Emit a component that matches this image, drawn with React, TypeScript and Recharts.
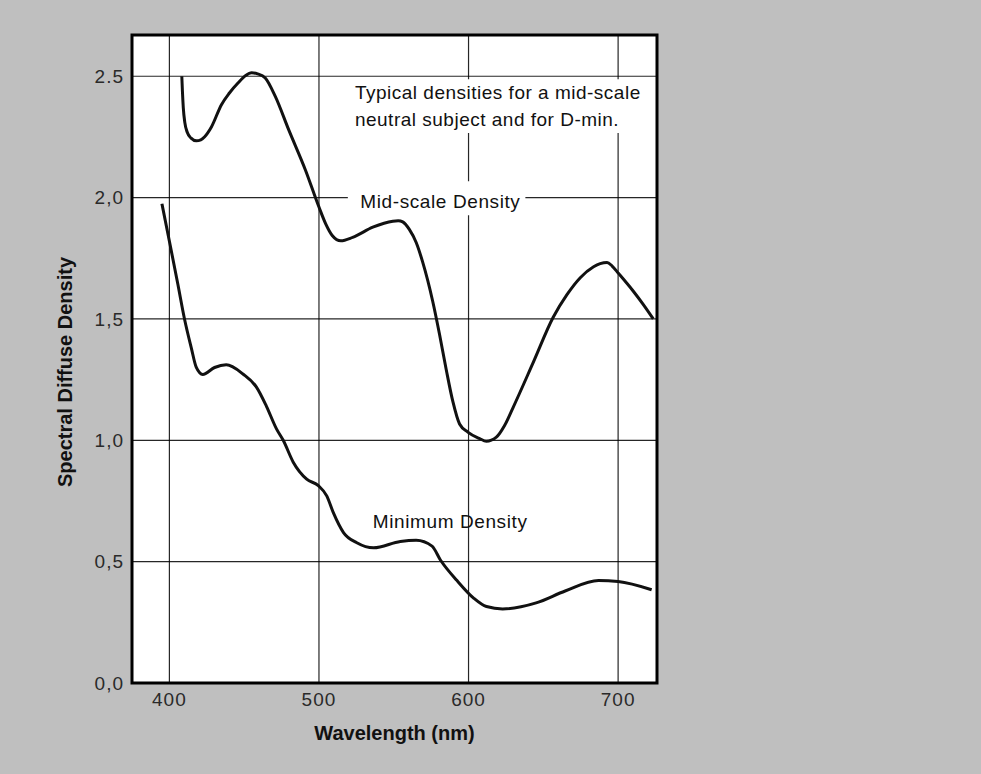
import React from "react";
import {
  LineChart,
  Line,
  XAxis,
  YAxis,
  CartesianGrid,
  ReferenceArea,
  Label,
} from "recharts";

// ---- data ----
const wavelengthTicks = [400, 500, 600, 700];
const densityTicks = [0, 0.5, 1, 1.5, 2, 2.5];
const densityTickLabels = ["0,0", "0,5", "1,0", "1,5", "2,0", "2.5"];

const midNm = [
  408.3, 408.7, 409.3, 410.3, 412, 414.5, 418, 421, 423.6, 428, 434.8, 440, 446,
  451, 455, 459, 464.1, 470.8, 479.8, 491, 500, 504.5, 509, 514.6, 522.5, 536,
  549.4, 553, 556, 560.4, 565, 569.3, 576, 580.5, 585, 589.5, 594, 599.5, 607.4,
  611.9, 618.6, 624, 629.7, 643.2, 656.6, 665.8, 674.7, 683.6, 688, 692.6, 696,
  700.2, 710.3, 717, 723.5,
];
const midDensity = [
  2.5, 2.44, 2.37, 2.31, 2.268, 2.245, 2.234, 2.238, 2.251, 2.29, 2.383, 2.43,
  2.473, 2.503, 2.514, 2.51, 2.493, 2.417, 2.279, 2.113, 1.961, 1.892, 1.843,
  1.822, 1.836, 1.878, 1.903, 1.905, 1.9, 1.869, 1.815, 1.735, 1.574, 1.44,
  1.294, 1.16, 1.067, 1.034, 1.007, 0.996, 1.013, 1.06, 1.134, 1.32, 1.507, 1.6,
  1.67, 1.715, 1.728, 1.733, 1.718, 1.688, 1.613, 1.558, 1.5,
];

const minNm = [
  395, 400, 405.6, 410.1, 414.6, 418, 422.3, 430.2, 438, 449.2, 458.1, 464.9,
  471.6, 476.1, 482.8, 491.8, 499.6, 505.2, 509.6, 516.4, 525.3, 536.5, 554.4,
  565, 575.6, 581.2, 592.3, 603.4, 612, 622.8, 645.2, 664.6, 686.9, 700, 722.4,
];
const minDensity = [
  1.975, 1.82, 1.645, 1.5, 1.382, 1.3, 1.271, 1.3, 1.311, 1.273, 1.22, 1.14,
  1.047, 1.0, 0.91, 0.84, 0.813, 0.771, 0.702, 0.62, 0.578, 0.557, 0.583,
  0.588, 0.564, 0.507, 0.422, 0.35, 0.315, 0.305, 0.33, 0.379, 0.422, 0.418,
  0.384,
];

const noteLines = ["Typical densities for a mid-scale", "neutral subject and for D-min."];
const midLabel = "Mid-scale Density";
const minLabel = "Minimum Density";
const xTitle = "Wavelength (nm)";
const yTitle = "Spectral Diffuse Density";

const midData = midNm.map((nm, i) => ({ nm, d: midDensity[i] }));
const minData = minNm.map((nm, i) => ({ nm, d: minDensity[i] }));

const FONT = '"Liberation Sans", Arial, Helvetica, sans-serif';
const INK = "#111";

const NoteText = (props: any) => {
  const vb = props.viewBox || {};
  return (
    <g>
      {noteLines.map((t, i) => (
        <text
          key={i}
          x={vb.x + 5}
          y={vb.y + 20 + i * 26.7}
          fontFamily={FONT}
          fontSize={19}
          letterSpacing={0.5}
          fill={INK}
        >
          {t}
        </text>
      ))}
    </g>
  );
};

const MidText = (props: any) => {
  const vb = props.viewBox || {};
  return (
    <text x={vb.x + 12.5} y={vb.y + 26.3} fontFamily={FONT} fontSize={19} letterSpacing={0.6} fill={INK}>
      {midLabel}
    </text>
  );
};

const MinText = (props: any) => {
  const vb = props.viewBox || {};
  return (
    <text x={vb.x} y={vb.y + 23.3} fontFamily={FONT} fontSize={19} letterSpacing={0.6} fill={INK}>
      {minLabel}
    </text>
  );
};

const XTitle = (props: any) => {
  const vb = props.viewBox || {};
  return (
    <text
      x={vb.x + vb.width / 2}
      y={vb.y + 57}
      textAnchor="middle"
      fontFamily={FONT}
      fontWeight="bold"
      fontSize={20}
      fill={INK}
    >
      {xTitle}
    </text>
  );
};

const YTitle = (props: any) => {
  const vb = props.viewBox || {};
  const cx = 72;
  const cy = vb.y + vb.height / 2 + 13;
  return (
    <text
      x={cx}
      y={cy}
      transform={`rotate(-90 ${cx} ${cy})`}
      textAnchor="middle"
      fontFamily={FONT}
      fontWeight="bold"
      fontSize={20}
      fill={INK}
    >
      {yTitle}
    </text>
  );
};

export default function App() {
  return (
    <div
      style={{
        position: "absolute",
        left: 0,
        top: 0,
        width: 981,
        height: 774,
        background: "#bfbfbf",
        overflow: "hidden",
      }}
    >
      <LineChart
        width={981}
        height={774}
        margin={{ top: 35, right: 324, bottom: 61, left: 0 }}
      >
        <CartesianGrid
          fill="#ffffff"
          stroke="#000"
          strokeWidth={1.2}
          strokeOpacity={0.85}
        />
        <XAxis
          type="number"
          dataKey="nm"
          domain={[375, 726]}
          ticks={wavelengthTicks}
          allowDataOverflow
          height={30}
          axisLine={false}
          tickLine={false}
          tickSize={0}
          tickMargin={10}
          tick={{ fontSize: 19, fill: "#2a2a2a", fontFamily: FONT, letterSpacing: 1 }}
        >
          <Label content={XTitle} />
        </XAxis>
        <YAxis
          type="number"
          dataKey="d"
          domain={[0, 2.67]}
          ticks={densityTicks}
          allowDataOverflow
          width={132}
          axisLine={false}
          tickLine={false}
          tickSize={0}
          tickMargin={8}
          tickFormatter={(v: number) => {
            const i = densityTicks.indexOf(v);
            return i >= 0 ? densityTickLabels[i] : String(v);
          }}
          tick={{ fontSize: 19, fill: "#2a2a2a", fontFamily: FONT, letterSpacing: 1 }}
        >
          <Label content={YTitle} />
        </YAxis>
        <ReferenceArea
          x1={520.7}
          x2={719.3}
          y1={2.266}
          y2={2.488}
          fill="#ffffff"
          fillOpacity={1}
          stroke="none"
          ifOverflow="visible"
        >
          <Label content={NoteText} />
        </ReferenceArea>
        <ReferenceArea
          x1={519.3}
          x2={638}
          y1={1.927}
          y2={2.067}
          fill="#ffffff"
          fillOpacity={1}
          stroke="none"
          ifOverflow="visible"
        >
          <Label content={MidText} />
        </ReferenceArea>
        <ReferenceArea
          x1={536}
          x2={630}
          y1={0.631}
          y2={0.734}
          fill="none"
          fillOpacity={0}
          stroke="none"
          ifOverflow="visible"
        >
          <Label content={MinText} />
        </ReferenceArea>
        <Line
          data={midData}
          dataKey="d"
          type="monotone"
          stroke={INK}
          strokeWidth={3}
          dot={false}
          isAnimationActive={false}
        />
        <Line
          data={minData}
          dataKey="d"
          type="monotone"
          stroke={INK}
          strokeWidth={3}
          dot={false}
          isAnimationActive={false}
        />
        <ReferenceArea
          x1={375}
          x2={726}
          y1={0}
          y2={2.67}
          fill="none"
          fillOpacity={0}
          stroke="#000"
          strokeWidth={3}
          ifOverflow="visible"
        />
      </LineChart>
    </div>
  );
}
